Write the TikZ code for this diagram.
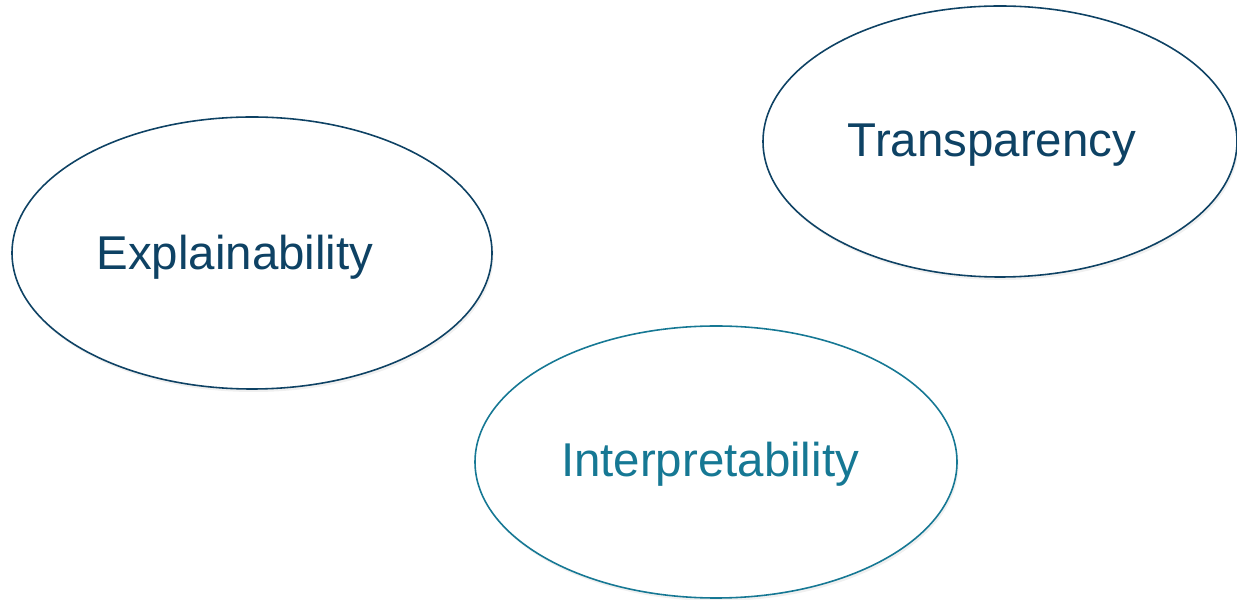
\documentclass[tikz,border=0pt]{standalone}
\usepackage{fontspec}
\setmainfont{Liberation Sans}
\usepackage{xcolor}
\usepackage{tikz}
\usetikzlibrary{shapes.geometric,shadows,positioning}

\definecolor{navy}{RGB}{14,66,100}
\definecolor{teal}{RGB}{22,120,148}

\begin{document}
\begin{tikzpicture}[
bubble/.style={
  draw,
  ellipse,
  line width=0.9pt,
  fill=white,
  inner sep=0pt,
  drop shadow={opacity=0.12,shadow xshift=0.03cm,shadow yshift=-0.06cm}
},
word/.style={
  inner sep=0pt,
  font=\fontsize{27}{32}\selectfont
}
]
\useasboundingbox (0,0) rectangle (24.74,11.98);

\node[bubble,draw=navy,minimum width=9.6cm,minimum height=5.44cm] at (5.04,6.92)
  (expl) {};
\node[bubble,draw=navy,minimum width=9.48cm,minimum height=5.42cm] at (20.0,9.15)
  (transp) {};
\node[bubble,draw=teal,minimum width=9.64cm,minimum height=5.44cm] at (14.32,2.74)
  (interp) {};

\node[word,text=navy] at ([xshift=-0.34cm,yshift=-0.09cm]expl.center)
  {Explainability};
\node[word,text=navy] at ([xshift=-0.16cm,yshift=-0.08cm]transp.center)
  {Transparency};
\node[word,text=teal] at ([xshift=-0.12cm,yshift=-0.05cm]interp.center)
  {Interpretability};
\end{tikzpicture}
\end{document}
